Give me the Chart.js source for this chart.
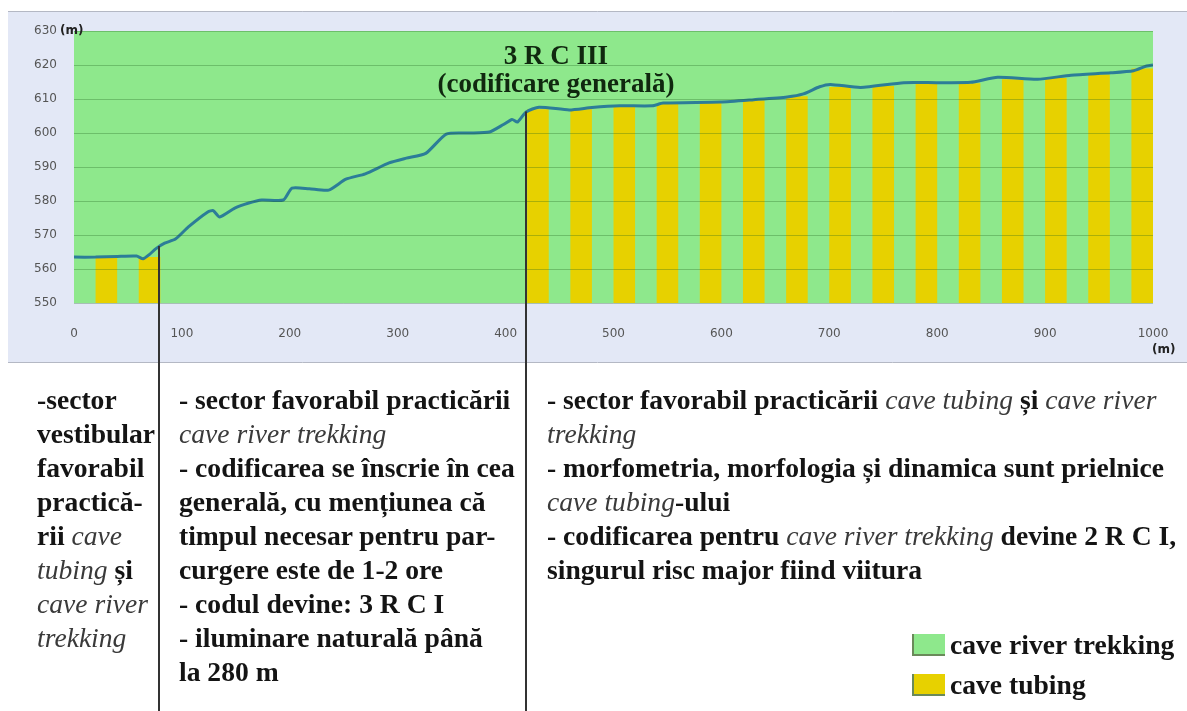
<!DOCTYPE html>
<html>
<head>
<meta charset="utf-8">
<script src="https://cdn.jsdelivr.net/npm/chart.js@4/dist/chart.umd.min.js"></script>
<style>
    body { margin: 0; background: #fff; width: 1187px; height: 711px; overflow: hidden; position: relative; font-family: "Liberation Serif", "Times New Roman", serif; }
    #wrap { position: absolute; left: 0; top: 0; width: 1187px; height: 711px; }
    .txt { position: absolute; font-weight: bold; font-size: 27.6px; line-height: 34px; color: #141414; white-space: nowrap; }
    .txt i { font-weight: normal; color: #3a3a3a; }
    .title { position: absolute; left: 356px; width: 400px; text-align: center; font-weight: bold; font-size: 27px; line-height: 28px; color: #10280f; }
    .unit { position: absolute; font-family: "DejaVu Sans", sans-serif; font-weight: bold; font-size: 12px; color: #222; }
    .sw { position: absolute; width: 31px; height: 20px; border-left: 2px solid #6a8a5a; border-bottom: 2px solid #6a8a5a; }
</style>
</head>
<body>
<div id="wrap"><canvas id="profile-chart" width="1187" height="711"></canvas></div>

<div class="title" style="top:41px;">3 R C III<br>(codificare generală)</div>
<div class="unit" style="left:60px;top:23px;">(m)</div>
<div class="unit" style="left:1152px;top:342px;">(m)</div>

<div class="txt" style="left:37px;top:383px;">-sector<br>vestibular<br>favorabil<br>practică-<br>rii <i>cave</i><br><i>tubing</i> și<br><i>cave river</i><br><i>trekking</i></div>
<div class="txt" style="left:179px;top:383px;">- sector favorabil practicării<br><i>cave river trekking</i><br>- codificarea se înscrie în cea<br>generală, cu mențiunea că<br>timpul necesar pentru par-<br>curgere este de 1-2 ore<br>- codul devine: 3 R C I<br>- iluminare naturală până<br>la 280 m</div>
<div class="txt" style="left:547px;top:383px;">- sector favorabil practicării <i>cave tubing</i> și <i>cave river</i><br><i>trekking</i><br>- morfometria, morfologia și dinamica sunt prielnice<br><i>cave tubing</i>-ului<br>- codificarea pentru <i>cave river trekking</i> devine 2 R C I,<br>singurul risc major fiind viitura</div>

<div class="sw" style="left:912px;top:634px;background:#8ee88c;"></div>
<div class="txt" style="left:950px;top:628px;">cave river trekking</div>
<div class="sw" style="left:912px;top:674px;background:#e7d100;"></div>
<div class="txt" style="left:950px;top:668px;">cave tubing</div>

<script>
// longitudinal profile (distance m, altitude m)
const distance = [0, 20, 40, 58, 64, 70, 76, 84, 94, 106, 124, 129, 135, 149, 162, 174, 194, 202, 218, 236,
    252, 270, 292, 308, 326, 345, 366, 385, 398, 406, 411, 419, 431, 459, 480, 506, 536, 546, 599, 630,
    661, 676, 691, 701, 729, 769, 800, 831, 856, 893, 924, 961, 982, 994, 1000];
const elevation = [563.5, 563.5, 563.7, 563.8, 563.0, 564.3, 566.0, 567.6, 568.8, 572.4, 576.8, 577.2, 575.3, 577.9, 579.4, 580.3, 580.3, 583.8, 583.6, 583.2,
    586.4, 588.0, 591.2, 592.6, 594.0, 599.7, 600.0, 600.3, 602.5, 604.0, 603.2, 606.2, 607.6, 606.8, 607.5, 608.0, 608.0, 608.8, 609.1, 609.8,
    610.6, 611.5, 613.6, 614.3, 613.4, 614.8, 614.8, 614.9, 616.4, 615.8, 617.0, 617.7, 618.3, 619.7, 620.0];

// cave tubing columns (centre of each 20 m column, top altitude)
const tubingX = [30, 70, 430, 470, 510, 550, 590, 630, 670, 710, 750, 790, 830, 870, 910, 950, 990];
const tubingTop = [563.4, 563.5, 607.0, 607.0, 607.8, 608.5, 609.0, 609.6, 610.8, 613.5, 613.8, 614.5, 614.6, 615.8, 616.2, 617.2, 619.0];

// cave river trekking covers the whole passage
const trekkingX = [0, 1000];
const trekkingTop = [630, 630];

// sector limits (m)
const sectorBreaks = [80, 420];

const yMin = 550, yMax = 630, yStep = 10;
const xMin = 0, xMax = 1000, xStep = 100;

function altitudeAt(d) {
    for (let i = 1; i < distance.length; i++) {
        if (d <= distance[i]) {
            const t = (d - distance[i - 1]) / (distance[i] - distance[i - 1]);
            return elevation[i - 1] + t * (elevation[i] - elevation[i - 1]);
        }
    }
    return elevation[elevation.length - 1];
}

function toPoints(xs, ys) {
    return xs.map((x, i) => ({x: x, y: ys[i]}));
}

// lavender panel behind the chart
const panelPlugin = {
    id: 'panel',
    beforeDraw(chart) {
        const ctx = chart.ctx;
        ctx.save();
        ctx.fillStyle = '#e3e8f6';
        ctx.fillRect(8, 11, 1179, 351);
        ctx.strokeStyle = '#b4b8c4';
        ctx.lineWidth = 1;
        ctx.beginPath();
        ctx.moveTo(8, 11.5);
        ctx.lineTo(1187, 11.5);
        ctx.moveTo(8, 362.5);
        ctx.lineTo(1187, 362.5);
        ctx.stroke();
        ctx.restore();
    }
};

// vertical sector separators, running down into the text
const sectorPlugin = {
    id: 'sectors',
    afterDraw(chart) {
        const ctx = chart.ctx;
        const xs = chart.scales.x;
        const ys = chart.scales.y;
        ctx.save();
        ctx.strokeStyle = '#333';
        ctx.lineWidth = 2;
        sectorBreaks.forEach((b) => {
            const px = Math.round(xs.getPixelForValue(b)) - 1;
            ctx.beginPath();
            ctx.moveTo(px, ys.getPixelForValue(altitudeAt(b)));
            ctx.lineTo(px, chart.height);
            ctx.stroke();
        });
        ctx.restore();
    }
};

const tickFont = {family: 'DejaVu Sans', size: 12};

new Chart(document.querySelector('#profile-chart'), {
    type: 'bar',
    data: {
        datasets: [
            {
                type: 'line',
                label: 'profil',
                data: toPoints(distance, elevation),
                borderColor: '#2c7d98',
                borderWidth: 3,
                pointRadius: 0,
                tension: 0.2,
                order: 0,
            },
            {
                type: 'bar',
                label: 'cave tubing',
                data: toPoints(tubingX, tubingTop),
                backgroundColor: '#e7d100',
                categoryPercentage: 1,
                barPercentage: 0.5,
                order: 1,
            },
            {
                type: 'line',
                label: 'cave river trekking',
                data: toPoints(trekkingX, trekkingTop),
                backgroundColor: '#8ee88c',
                borderWidth: 0,
                pointRadius: 0,
                fill: 'start',
                order: 2,
            },
        ]
    },
    options: {
        responsive: false,
        animation: false,
        layout: {padding: {left: 0, top: 31, right: 34, bottom: 358}},
        plugins: {legend: {display: false}, tooltip: {enabled: false}},
        scales: {
            x: {
                type: 'linear',
                min: xMin,
                max: xMax,
                offset: false,
                grid: {display: false, offset: false},
                border: {display: false},
                ticks: {
                    stepSize: xStep, maxRotation: 0, padding: 16, font: tickFont, color: '#555',
                    callback: (v) => String(v),
                },
                afterFit(scale) {
                    scale.height = 50;
                },
            },
            y: {
                min: yMin,
                max: yMax,
                grid: {color: 'rgba(30,95,30,0.3)', drawTicks: false, z: 1},
                border: {display: false},
                ticks: {stepSize: yStep, padding: 17, font: tickFont, color: '#555'},
                afterFit(scale) {
                    scale.width = 74;
                },
            },
        },
    },
    plugins: [panelPlugin, sectorPlugin],
});
</script>
</body>
</html>
